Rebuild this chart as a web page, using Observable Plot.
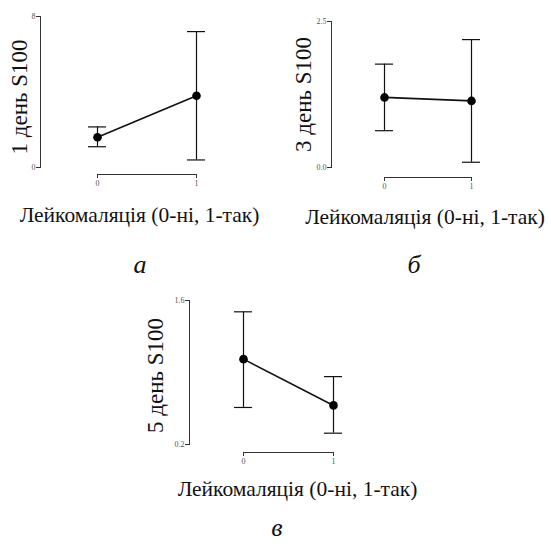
<!DOCTYPE html>
<html>
<head>
<meta charset="utf-8">
<script src="https://cdn.jsdelivr.net/npm/d3@7"></script>
<script src="https://cdn.jsdelivr.net/npm/@observablehq/plot@0.6"></script>
<style>
  body { margin: 0; background: #fff; }
  #wrap { position: relative; width: 551px; height: 544px; color: #111; overflow: hidden; }
  .p { position: absolute; }
  .xt { position: absolute; font-family: "Liberation Serif", "DejaVu Serif", serif; font-size: 21.5px; line-height: 1; white-space: nowrap; transform: translateX(-50%); }
  .lt { position: absolute; font-family: "Liberation Serif", "DejaVu Serif", serif; font-size: 26px; line-height: 1; font-style: italic; transform: translateX(-50%); }
</style>
</head>
<body>
<div id="wrap"></div>
<script>
// ---- data ----
const categories = [0, 1];
const day1Mean = [1.6, 3.8];
const day1Low = [1.1, 0.4];
const day1High = [2.15, 7.2];
const day3Mean = [1.2, 1.14];
const day3Low = [0.63, 0.09];
const day3High = [1.77, 2.19];
const day5Mean = [1.03, 0.58];
const day5Low = [0.56, 0.31];
const day5High = [1.49, 0.86];
const yTicks1 = [0, 8];
const yTicks3 = [0, 2.5];
const yTicks5 = [0.2, 1.6];
const xTicks = [0, 1];
const yTitles = ["1 день S100", "3 день S100", "5 день S100"];
const xTitle = "Лейкомаляція (0-ні, 1-так)";
const panelLetters = ["а", "б", "в"];

const serif = "'Liberation Serif', 'DejaVu Serif', serif";

function panel({mean, low, high, yTicks, fmt, title, L}) {
  const data = categories.map((c, i) => ({x: c, m: mean[i], lo: low[i], hi: high[i]}));
  return Plot.plot({
    width: L.w, height: L.h,
    marginLeft: L.ml, marginTop: L.mt, marginBottom: L.h - L.yb, marginRight: L.w - L.x1,
    x: {domain: [0, 1], insetLeft: L.x0 - L.ml, axis: null},
    y: {domain: yTicks, axis: null},
    style: {background: "transparent", overflow: "visible", fontFamily: serif},
    marks: [
      Plot.frame({anchor: "left", stroke: "#333"}),
      Plot.axisY({ticks: yTicks, tickSize: 4, tickPadding: 1, tickFormat: fmt, fontSize: 8, label: null, stroke: "#333", fill: "#555"}),
      Plot.ruleY([yTicks[0]], {x1: 0, x2: 1, dy: L.dy, stroke: "#333"}),
      Plot.axisX({ticks: xTicks, tickSize: 4, tickPadding: 2, tickFormat: d3.format("d"), dy: L.dy, fontSize: 8, label: null, stroke: "#333", fill: "#555"}),
      Plot.ruleX(data, {x: "x", y1: "lo", y2: "hi", stroke: "#111", strokeWidth: 1.2}),
      Plot.ruleY(data, {x1: "x", x2: "x", y: "lo", insetLeft: -9, insetRight: -9, stroke: "#111", strokeWidth: 1.2}),
      Plot.ruleY(data, {x1: "x", x2: "x", y: "hi", insetLeft: -9, insetRight: -9, stroke: "#111", strokeWidth: 1.2}),
      Plot.line(data, {x: "x", y: "m", stroke: "#111", strokeWidth: 1.6}),
      Plot.dot(data, {x: "x", y: "m", r: 4.3, fill: "#000", stroke: "none"}),
      Plot.text([title], {frameAnchor: "left", textAnchor: "middle", dx: -L.tdx, dy: L.tdy, rotate: -90, fontSize: 23, fontFamily: serif, fill: "#111"})
    ]
  });
}

const wrap = document.getElementById("wrap");
function place(node, left, top) {
  node.classList.add("p");
  node.style.left = left + "px";
  node.style.top = top + "px";
  wrap.appendChild(node);
}
function txt(cls, s, x, y) {
  const d = document.createElement("div");
  d.className = cls; d.textContent = s;
  d.style.left = x + "px"; d.style.top = y + "px";
  wrap.appendChild(d);
}

place(panel({mean: day1Mean, low: day1Low, high: day1High, yTicks: yTicks1, fmt: d3.format("d"), title: yTitles[0],
  L: {w: 280, h: 200, ml: 40, mt: 16, yb: 167, x0: 97, x1: 196, dy: 7, tdx: 21, tdy: 5}}), 0, 0);
place(panel({mean: day3Mean, low: day3Low, high: day3High, yTicks: yTicks3, fmt: d3.format(".1f"), title: yTitles[1],
  L: {w: 271, h: 200, ml: 51, mt: 21, yb: 167, x0: 104, x1: 191, dy: 10, tdx: 28, tdy: 0}}), 280, 0);
place(panel({mean: day5Mean, low: day5Low, high: day5High, yTicks: yTicks5, fmt: d3.format(".1f"), title: yTitles[2],
  L: {w: 250, h: 200, ml: 39, mt: 20, yb: 164, x0: 93, x1: 183, dy: 8, tdx: 34, tdy: 3}}), 150, 280);

txt("xt", xTitle, 139.5, 205);
txt("xt", xTitle, 425, 207);
txt("xt", xTitle, 297.5, 479);
txt("lt", panelLetters[0], 140, 252);
txt("lt", panelLetters[1], 414, 252);
txt("lt", panelLetters[2], 277, 515);
</script>
</body>
</html>
